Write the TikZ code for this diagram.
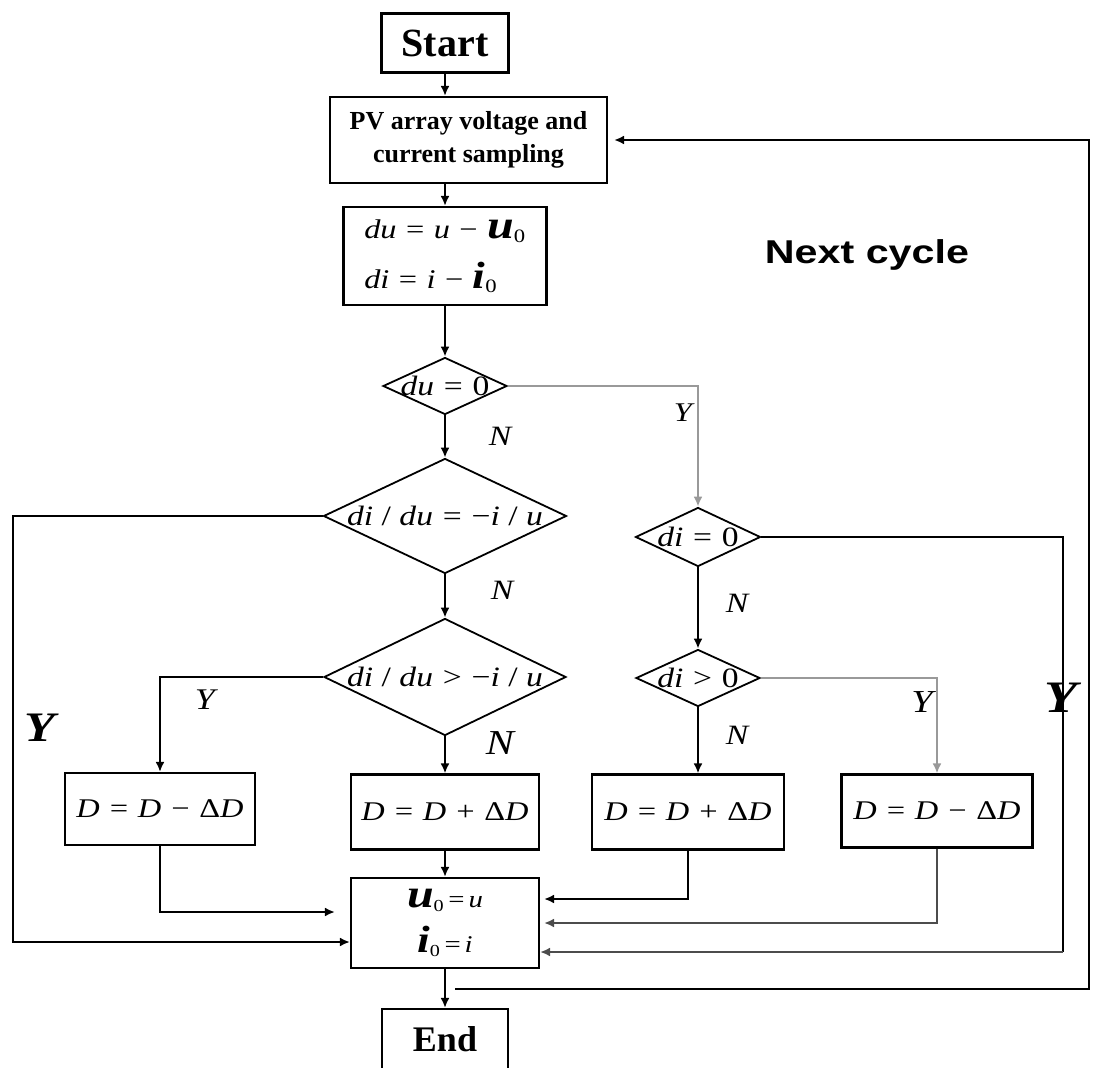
\documentclass[tikz,border=0pt]{standalone}
\usepackage{fontspec}
\setmainfont{Liberation Serif}
\newfontfamily\mi{Liberation Serif}[FakeStretch=1.2]
\newfontfamily\nc{Liberation Sans}[FakeStretch=1.25]
\usetikzlibrary{shapes.geometric,arrows.meta}
\newcommand{\fs}[2]{\fontsize{#1}{#2}\selectfont}
\newcommand{\gp}{\hspace{0.35em}}
\begin{document}
\begin{tikzpicture}[x=1pt,y=-1pt,
  box/.style={draw, line width=2.2pt, inner sep=0pt},
  dia/.style={draw, diamond, line width=1.8pt, inner sep=0pt},
  ln/.style={line width=2pt},
  arr/.style={line width=2pt, -{Latex[length=10pt,width=9pt]}},
  gl/.style={draw=black!40},
  dk/.style={draw=black!70},
  lab/.style={inner sep=0pt, font=\mi\itshape},
]
\useasboundingbox (0,0) rectangle (1093,1068);

% boxes
\node[box, minimum width=127pt, minimum height=59pt, font=\bfseries\fs{40}{48}] (start) at (445,43) {Start};
\node[box, minimum width=277pt, minimum height=86pt, align=center, font=\bfseries\fs{26}{33}] (pv) at (468.5,140) {PV array voltage and\\current sampling};
\node[box, minimum width=203pt, minimum height=98pt, align=left, font=\mi\fs{27}{54}] (du) at (445,256)
  {\textit{du}\gp=\gp\textit{u}\gp−\gp{\fs{40}{40}\bfseries\itshape u}\textsubscript{0}\\[-4pt]\textit{di}\gp=\gp\textit{i}\gp−\gp{\fs{38}{38}\bfseries\itshape i}\textsubscript{0}};

% decisions
\node[dia, minimum width=124pt, minimum height=57pt] (d1) at (445,386) {};
\node[lab, font=\mi\fs{28}{28}] (d1t) at (d1) {\textit{du}\gp=\gp0};
\node[dia, minimum width=243pt, minimum height=115pt] (d2) at (445,516) {};
\node[lab, font=\mi\fs{28}{28}] (d2t) at (d2) {\textit{di} / \textit{du}\gp=\gp−\textit{i} / \textit{u}};
\node[dia, minimum width=242pt, minimum height=117pt] (d3) at (445,677) {};
\node[lab, font=\mi\fs{28}{28}] (d3t) at (d3) {\textit{di} / \textit{du}\gp>\gp−\textit{i} / \textit{u}};
\node[dia, minimum width=125pt, minimum height=59pt] (d4) at (698,537) {};
\node[lab, font=\mi\fs{28}{28}] (d4t) at (d4) {\textit{di}\gp=\gp0};
\node[dia, minimum width=124pt, minimum height=57pt] (d5) at (698,678) {};
\node[lab, font=\mi\fs{28}{28}] (d5t) at (d5) {\textit{di}\gp>\gp0};

% action boxes
\node[box, minimum width=190pt, minimum height=72pt, font=\mi\itshape\fs{27}{27}] (b1) at (160,809) {D = D − {\upshape Δ}D};
\node[box, minimum width=188pt, minimum height=75pt, font=\mi\itshape\fs{27}{27}] (b2) at (445,812) {D = D + {\upshape Δ}D};
\node[box, minimum width=192pt, minimum height=75pt, font=\mi\itshape\fs{27}{27}] (b3) at (688,812) {D = D + {\upshape Δ}D};
\node[box, minimum width=191pt, minimum height=73pt, font=\mi\itshape\fs{27}{27}] (b4) at (937,811) {D = D − {\upshape Δ}D};

\node[box, minimum width=188pt, minimum height=90pt, align=center, font=\mi\fs{24}{45}] (u0) at (445,923)
  {{\fs{40}{40}\bfseries\itshape u}\textsubscript{0}\,=\,\textit{u}\\{\fs{38}{38}\bfseries\itshape i}\textsubscript{0}\,=\,\textit{i}};
\node[box, minimum width=126pt, minimum height=80pt] (end) at (445,1049) {};
\node[inner sep=0pt, font=\bfseries\fs{36}{40}] (endt) at (445,1039) {End};

% labels
\node[lab, font=\mi\itshape\fs{28}{28}] (n1) at (500,436) {N};
\node[lab, font=\mi\itshape\fs{28}{28}] (n2) at (502,590) {N};
\node[lab, font=\mi\itshape\fs{35}{35}] (n3) at (500,743) {N};
\node[lab, font=\mi\itshape\fs{28}{28}] (n4) at (737,603) {N};
\node[lab, font=\mi\itshape\fs{28}{28}] (n5) at (737,735) {N};
\node[lab, font=\mi\itshape\fs{27}{27}] (y1) at (683,413) {Y};
\node[lab, font=\mi\itshape\fs{30}{30}] (y2) at (205,700) {Y};
\node[lab, font=\mi\itshape\fs{32}{32}] (y3) at (922,702) {Y};
\node[lab, font=\mi\bfseries\itshape\fs{42}{42}] (yl) at (40,728) {Y};
\node[lab, font=\mi\bfseries\itshape\fs{45}{45}] (yr) at (1061,698) {Y};
\node[inner sep=0pt, font=\nc\bfseries\fs{33}{33}] (next) at (867,255) {Next cycle};

% coordinates
\coordinate (lY) at (13,942);
\coordinate (rY) at (1063,952);
\coordinate (l1) at (0,912);
\coordinate (r1) at (0,899);
\coordinate (r2) at (0,923);
\coordinate (ret) at (455,989);
\coordinate (retc) at (1089,989);

% main column
\draw[arr] (start.south) -- (start.south |- pv.north);
\draw[arr] (du.north |- pv.south) -- (du.north);
\draw[arr] (du.south) -- (d1.north);
\draw[arr] (d1.south) -- (d2.north);
\draw[arr] (d2.south) -- (d3.north);
\draw[arr] (d3.south) -- (b2.north);
\draw[arr] (b2.south) -- (u0.north);
\draw[arr] (u0.south) -- (end.north);

% right branch
\draw[arr, gl] (d1.east) -| (d4.north);
\draw[arr] (d4.south) -- (d5.north);
\draw[arr] (d5.south) -- (d5.south |- b3.north);
\draw[arr, gl] (d5.east) -| (b4.north);
\draw[ln] (d4.east) -| (rY);
\draw[arr, dk] (rY) -- (u0.east |- rY);

% left branch
\draw[arr] (d2.west) -| (lY) -- (u0.west |- lY);
\draw[arr] (d3.west) -| (b1.north);
\draw[arr, shorten >=15pt] (b1.south) |- (u0.west |- l1);

% into u0 from right
\draw[arr, shorten >=4pt] (b3.south) |- (u0.east |- r1);
\draw[arr, dk, shorten >=4pt] (b4.south) |- (u0.east |- r2);

% next cycle loop
\draw[arr, shorten >=6pt] (ret) -- (retc) |- (pv.east);
\end{tikzpicture}
\end{document}
